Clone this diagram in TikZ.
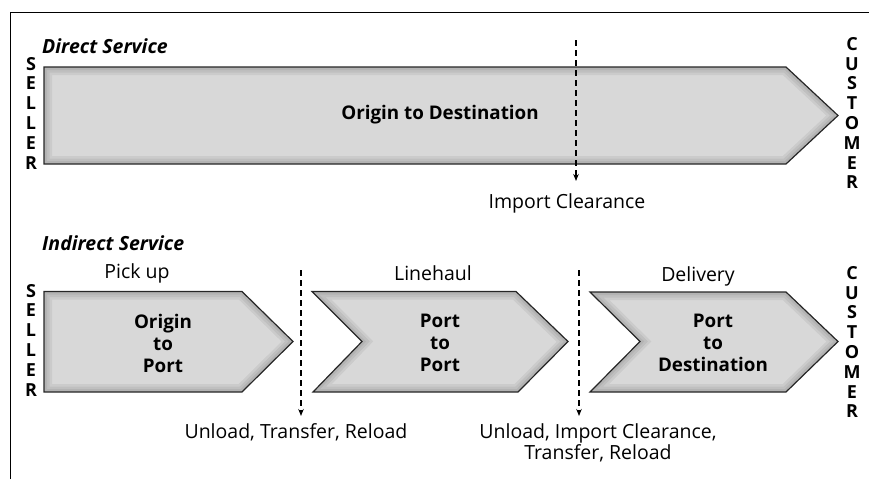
\documentclass[tikz,border=0pt]{standalone}
\usepackage{fontspec}
\setmainfont{Open Sans}
\usetikzlibrary{arrows.meta}

\newcommand\directpath{(44,67) -- (786,67) -- (838,115.5) -- (786,164) -- (44,164) -- cycle}
\newcommand\pickuppath{(44,291.5) -- (242,291.5) -- (293,341.5) -- (242,392) -- (44,392) -- cycle}
\newcommand\linehaulpath{(312,291.5) -- (516,291.5) -- (568,341.5) -- (518,392) -- (313,392) -- (362,341.5) -- cycle}
\newcommand\deliverypath{(590,292) -- (786,292) -- (838,341.5) -- (786,392) -- (590,392) -- (640,341.5) -- cycle}

\begin{document}
\begin{tikzpicture}[x=1pt, y=-1pt,
    chevronline/.style={draw=black!85, line width=1.2pt, line join=miter},
    chevronfill/.style={fill={rgb,255:red,216;green,216;blue,216}},
    stagetext/.style={font=\fontsize{18.8}{22}\selectfont\bfseries, align=center, inner sep=0pt},
    note/.style={font=\fontsize{19.5}{21}\selectfont, align=center, inner sep=0pt},
    heading/.style={font=\fontsize{19.5}{20}\selectfont\bfseries\itshape, anchor=west, inner sep=0pt},
    party/.style={font=\fontsize{18}{19.8}\selectfont\bfseries, align=center, inner sep=0pt},
    handoff/.style={line width=1.6pt, dash pattern=on 6pt off 4pt,
        -{Stealth[length=7pt, width=5.5pt]}},
    frame/.style={line width=1pt}
]
    \useasboundingbox (0,0) rectangle (869,479);
    \draw[frame] (10,479) -- (10,12) -- (869,12);

    % chevrons with a soft inner shadow
    \foreach \shape in {\directpath, \pickuppath, \linehaulpath, \deliverypath} {
        \fill[chevronfill] \shape;
        \begin{scope}
            \clip \shape;
            \foreach \w in {16,11,6} {
                \draw[line width=\w pt, black, opacity=0.06] \shape;
            }
        \end{scope}
        \draw[chevronline] \shape;
    }

    % direct service
    \node[heading] (direct) at (42,46) {Direct Service};
    \node[stagetext] (otd) at (440,115) {Origin to Destination};
    \node[party] (seller1) at (31,113) {S\\E\\L\\L\\E\\R};
    \node[party] (customer1) at (852,113) {C\\U\\S\\T\\O\\M\\E\\R};
    \coordinate (ictop) at (576,40);
    \coordinate (icend) at (576,181);
    \draw[handoff] (ictop) -- (icend);
    \node[note] (ic) at (567,203) {Import Clearance};

    % indirect service
    \node[heading] (indirect) at (42,243) {Indirect Service};
    \node[note] (pickup) at (137,273) {Pick up};
    \node[note] (linehaul) at (433,273) {Linehaul};
    \node[note] (delivery) at (698,276) {Delivery};
    \node[stagetext] (otp) at (163,343) {Origin\\to\\Port};
    \node[stagetext] (ptp) at (440,343) {Port\\to\\Port};
    \node[stagetext] (ptd) at (713,343) {Port\\to\\Destination};
    \node[party] (seller2) at (31,340) {S\\E\\L\\L\\E\\R};
    \node[party] (customer2) at (852,342) {C\\U\\S\\T\\O\\M\\E\\R};

    \coordinate (xf1top) at (301,270);
    \coordinate (xf1end) at (301,416);
    \draw[handoff] (xf1top) -- (xf1end);
    \node[note] (xf1) at (296,432) {Unload, Transfer, Reload};

    \coordinate (xf2top) at (579,270);
    \coordinate (xf2end) at (579,416);
    \draw[handoff] (xf2top) -- (xf2end);
    \node[note] (xf2) at (598,442.5) {Unload, Import Clearance,\\Transfer, Reload};
\end{tikzpicture}
\end{document}
